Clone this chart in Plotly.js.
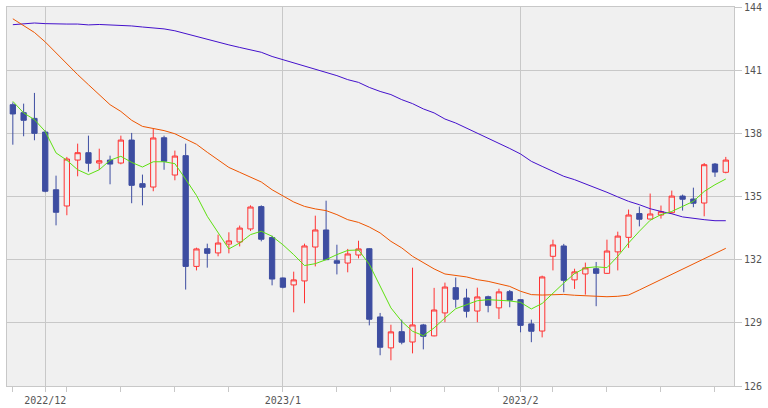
<!DOCTYPE html>
<html>
<head>
<meta charset="utf-8">
<script src="https://cdn.plot.ly/plotly-3.0.1.min.js"></script>
<style>
  html, body { margin: 0; padding: 0; background: #ffffff; }
  #chart { width: 768px; height: 408px; }
</style>
</head>
<body>
<div id="chart"></div>
<script>
// Trading days (categories)
const dates = [
  "2022-11-28","2022-11-29","2022-11-30",
  "2022-12-01","2022-12-02","2022-12-05","2022-12-06","2022-12-07","2022-12-08","2022-12-09",
  "2022-12-12","2022-12-13","2022-12-14","2022-12-15","2022-12-16","2022-12-19","2022-12-20",
  "2022-12-21","2022-12-22","2022-12-23","2022-12-26","2022-12-27","2022-12-28","2022-12-29","2022-12-30",
  "2023-01-02","2023-01-03","2023-01-04","2023-01-05","2023-01-06","2023-01-09","2023-01-10",
  "2023-01-11","2023-01-12","2023-01-13","2023-01-16","2023-01-17","2023-01-18","2023-01-19",
  "2023-01-20","2023-01-23","2023-01-24","2023-01-25","2023-01-26","2023-01-27","2023-01-30","2023-01-31",
  "2023-02-01","2023-02-02","2023-02-03","2023-02-06","2023-02-07","2023-02-08","2023-02-09",
  "2023-02-10","2023-02-13","2023-02-14","2023-02-15","2023-02-16","2023-02-17","2023-02-20",
  "2023-02-21","2023-02-22","2023-02-23","2023-02-24","2023-02-27","2023-02-28"
];

const open = [
  139.36,138.98,138.71,138.06,135.32,134.55,136.73,137.08,136.59,136.73,
  136.59,137.68,135.61,135.45,137.79,136.02,136.94,131.68,132.52,132.32,
  132.74,132.84,133.46,134.52,133.05,131.13,130.80,130.99,132.60,133.41,
  131.95,131.84,132.22,132.52,129.28,127.81,128.58,128.09,128.90,128.38,
  129.47,130.67,130.18,129.56,130.24,129.71,130.48,130.10,128.95,128.61,
  132.16,132.65,131.04,131.32,131.57,131.35,132.37,133.06,134.19,133.93,
  134.12,134.23,135.02,134.88,134.69,136.54,136.15
];
const high = [
  139.47,139.41,139.92,138.14,135.99,136.88,137.51,137.89,137.27,136.94,
  137.89,138.02,136.04,138.21,137.89,137.18,137.51,132.57,132.76,133.19,
  133.30,133.62,134.58,134.58,133.14,131.15,131.43,132.76,134.09,134.80,
  132.71,132.51,132.90,132.55,129.47,128.91,129.15,131.62,128.95,130.66,
  130.91,131.15,130.62,130.67,130.29,130.62,130.56,130.12,129.15,131.24,
  132.95,132.75,131.57,131.86,131.89,132.95,133.33,134.38,134.52,135.14,
  134.57,135.28,135.09,135.42,136.59,136.59,136.88
];
const low = [
  137.46,137.86,137.67,135.20,133.63,134.11,135.96,136.18,136.27,135.58,
  136.53,134.68,134.58,135.25,136.27,135.77,130.58,131.49,131.62,132.16,
  132.30,132.63,133.36,132.87,130.78,130.64,129.50,129.93,131.68,131.98,
  131.30,131.40,132.06,128.88,127.46,127.22,127.98,127.55,127.74,128.36,
  129.03,129.72,129.25,129.03,129.50,129.18,129.74,128.55,128.08,128.31,
  131.49,130.45,130.61,130.34,129.79,131.32,131.49,132.56,133.58,133.92,
  133.95,134.17,134.33,134.49,134.06,135.93,136.10
];
const close = [
  138.92,138.62,138.00,135.25,134.25,136.78,137.08,136.58,136.70,136.54,
  137.68,135.53,135.44,137.78,136.67,136.92,131.68,132.51,132.30,132.79,
  132.89,133.50,134.50,132.97,131.08,130.69,131.04,132.65,133.41,132.00,
  131.83,132.27,132.51,129.17,127.84,128.57,128.08,128.90,128.36,129.61,
  130.70,130.12,129.55,130.23,129.83,130.47,130.07,128.88,128.60,131.18,
  132.70,131.02,131.42,131.61,131.35,132.41,133.12,134.12,133.92,134.17,
  134.28,135.02,134.87,134.68,136.51,136.16,136.73
];

// Moving averages
const maShort = [
  139.52,138.97,138.65,138.09,137.07,136.72,136.27,136.04,136.27,136.72,
  136.91,136.62,136.40,136.65,136.65,136.56,135.82,135.05,134.06,133.27,
  132.51,132.79,133.19,133.35,133.11,132.71,132.24,131.72,131.81,132.00,
  132.24,132.44,132.46,131.78,130.73,129.71,129.07,128.60,128.39,128.76,
  129.23,129.67,129.86,130.05,130.10,130.07,130.04,129.97,129.66,129.92,
  130.42,130.89,131.34,131.61,131.66,131.62,132.16,132.79,133.35,133.87,
  134.14,134.29,134.53,134.77,135.24,135.56,135.83
];
const maMid = [
  143.44,143.11,142.79,142.34,141.82,141.26,140.79,140.31,139.84,139.36,
  139.04,138.62,138.33,138.22,138.13,137.98,137.73,137.48,137.10,136.75,
  136.38,136.15,135.91,135.69,135.32,135.04,134.74,134.53,134.41,134.33,
  134.14,133.90,133.77,133.55,133.27,132.87,132.56,132.16,131.84,131.56,
  131.32,131.24,131.18,131.05,130.97,130.85,130.73,130.50,130.34,130.32,
  130.35,130.35,130.31,130.29,130.24,130.24,130.26,130.32,130.56,130.81,
  131.05,131.31,131.56,131.80,132.05,132.29,132.54
];
const maLong = [
  143.16,143.21,143.24,143.21,143.19,143.19,143.19,143.15,143.17,143.15,
  143.15,143.10,143.05,143.00,142.96,142.87,142.73,142.59,142.48,142.32,
  142.20,142.08,141.97,141.85,141.65,141.50,141.34,141.21,141.07,140.89,
  140.74,140.55,140.42,140.18,139.99,139.84,139.60,139.41,139.16,138.97,
  138.68,138.49,138.25,138.02,137.78,137.54,137.28,137.02,136.67,136.43,
  136.19,135.96,135.80,135.61,135.41,135.20,134.98,134.77,134.61,134.42,
  134.29,134.18,134.03,133.95,133.90,133.85,133.85
];

// Tick labels
const labelDates = ["2022-12-01","2023-01-02","2023-02-01"];
const labelTexts = ["2022/12","2023/1","2023/2"];
const yTicks = [126,129,132,135,138,141,144];

const xi = dates.map((d, i) => i);
const tickIdx = labelDates.map(d => dates.indexOf(d));
const mondayIdx = dates.map((d, i) => ({d, i}))
  .filter(o => new Date(o.d + "T00:00:00Z").getUTCDay() === 1)
  .map(o => o.i);

const candleBlue = "#3d4da1";
const candleRed = "#ff3333";
const gridCol = "#c8c8c8";
const font = {family: "DejaVu Sans Mono, monospace", size: 10, color: "#555555"};

const traces = [
  {
    type: "candlestick",
    x: xi, open: open, high: high, low: low, close: close,
    increasing: {line: {color: candleRed, width: 1}, fillcolor: "#f0f0f0"},
    decreasing: {line: {color: candleBlue, width: 1}, fillcolor: candleBlue},
    whiskerwidth: 0,
    hoverinfo: "skip",
    showlegend: false
  },
  {type: "scatter", mode: "lines", x: xi, y: maLong,
   line: {color: "#4411cc", width: 1}, hoverinfo: "skip", showlegend: false},
  {type: "scatter", mode: "lines", x: xi, y: maMid,
   line: {color: "#ee5500", width: 1}, hoverinfo: "skip", showlegend: false},
  {type: "scatter", mode: "lines", x: xi, y: maShort,
   line: {color: "#5ee010", width: 1}, hoverinfo: "skip", showlegend: false}
];

const layout = {
  width: 768, height: 408,
  margin: {l: 7, r: 34, t: 7, b: 22, pad: 0},
  paper_bgcolor: "#ffffff",
  plot_bgcolor: "#f0f0f0",
  showlegend: false,
  xaxis: {
    type: "linear",
    range: [-0.54, 66.76],
    tickvals: tickIdx,
    ticktext: labelTexts,
    showgrid: true, gridcolor: gridCol, gridwidth: 1,
    ticks: "outside", ticklen: 5, tickcolor: gridCol,
    showline: true, linecolor: gridCol, mirror: true,
    zeroline: false,
    tickfont: font,
    minor: {tickvals: mondayIdx, ticks: "outside", ticklen: 5, tickcolor: gridCol, showgrid: false},
    rangeslider: {visible: false},
    fixedrange: true
  },
  yaxis: {
    side: "right",
    range: [126, 144],
    tickvals: yTicks,
    ticktext: yTicks.map(String),
    showgrid: true, gridcolor: gridCol, gridwidth: 1,
    ticks: "outside", ticklen: 7, tickcolor: gridCol,
    showline: true, linecolor: gridCol, mirror: true,
    zeroline: false,
    tickfont: font,
    fixedrange: true
  }
};

Plotly.newPlot("chart", traces, layout, {staticPlot: true, displayModeBar: false});
</script>
</body>
</html>
